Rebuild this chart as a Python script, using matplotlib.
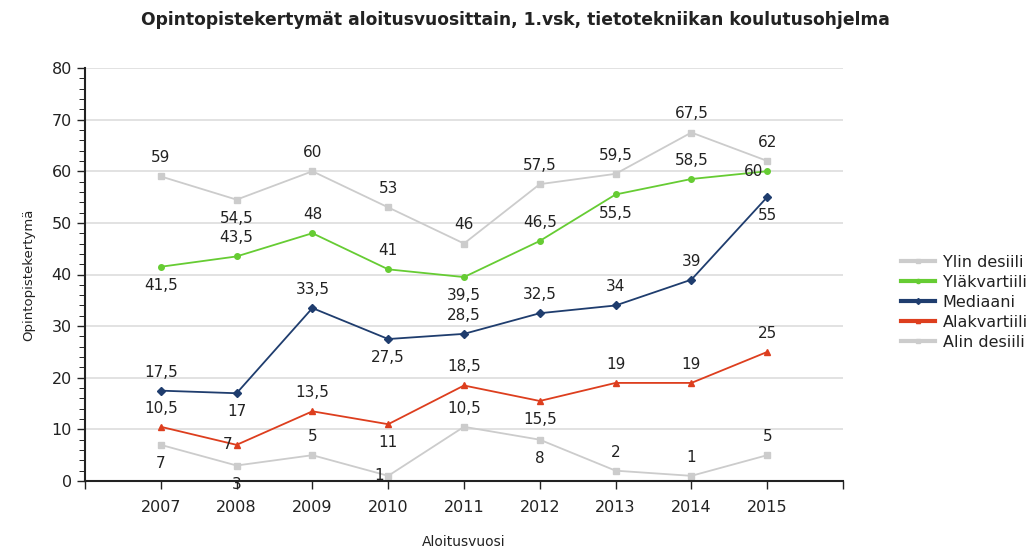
import matplotlib.pyplot as plt
from matplotlib.ticker import MultipleLocator

years = ['2007', '2008', '2009', '2010', '2011', '2012', '2013', '2014', '2015']
ylin_desiili = [59, 54.5, 60, 53, 46, 57.5, 59.5, 67.5, 62]
ylakvartiili = [41.5, 43.5, 48, 41, 39.5, 46.5, 55.5, 58.5, 60]
mediaani = [17.5, 17, 33.5, 27.5, 28.5, 32.5, 34, 39, 55]
alakvartiili = [10.5, 7, 13.5, 11, 18.5, 15.5, 19, 19, 25]
alin_desiili = [7, 3, 5, 1, 10.5, 8, 2, 1, 5]

# label placement per point: u = above, d = below, l = left
series = [
    ('Ylin desiili', ylin_desiili, '#cccccc', 's', 'uduuuuuuu'),
    ('Yläkvartiili', ylakvartiili, '#66cc33', 'o', 'duuududul'),
    ('Mediaani', mediaani, '#1f3d6e', 'D', 'ududuuuud'),
    ('Alakvartiili', alakvartiili, '#dd3e1e', '^', 'ulududuuu'),
    ('Alin desiili', alin_desiili, '#cccccc', 's', 'ddulud' + 'uuu'),
]
offsets = {'u': (0, 8, 'center', 'bottom'),
           'd': (0, -8, 'center', 'top'),
           'l': (-3, 0, 'right', 'center')}

fig = plt.figure(figsize=(10.31, 5.52), dpi=100)
ax = fig.add_axes([85 / 1031, 1 - 481 / 552, (843 - 85) / 1031, (481 - 68) / 552])

x = list(range(len(years)))
for name, vals, color, marker, pos in series:
    ms = 5 if marker == 's' else 4
    ax.plot(x, vals, color=color, marker=marker, markersize=ms, linewidth=1.3, label=name)
    for xi, v, p in zip(x, vals, pos):
        dx, dy, ha, va = offsets[p]
        ax.annotate(f'{v:g}'.replace('.', ','), (xi, v), xytext=(dx, dy),
                    textcoords='offset points', ha=ha, va=va, fontsize=11, color='#222222')

ax.set_xlim(-1, len(years))
ax.set_ylim(0, 80)
ax.set_xticks(x)
ax.set_xticks([-1, len(years)], minor=True)
ax.set_xticklabels(years, fontsize=11.5)
ax.yaxis.set_major_locator(MultipleLocator(10))
ax.yaxis.set_minor_locator(MultipleLocator(2))
ax.tick_params(axis='y', labelsize=11.5, length=6, width=1, colors='#222222')
ax.tick_params(axis='y', which='minor', length=4)
ax.tick_params(axis='x', which='both', length=6, width=1, pad=8, colors='#222222')
ax.grid(axis='y', color='#dddddd', linewidth=1.2)
ax.set_axisbelow(True)
for side in ['top', 'right']:
    ax.spines[side].set_visible(False)
ax.spines['left'].set_linewidth(1.5)
ax.spines['bottom'].set_linewidth(1.5)
ax.spines['left'].set_color('#222222')
ax.spines['bottom'].set_color('#222222')

ax.set_xlabel('Aloitusvuosi', fontsize=10, labelpad=14, color='#222222')
ax.set_ylabel('Opintopistekertymä', fontsize=9.5, labelpad=12, color='#222222')
fig.suptitle('Opintopistekertymät aloitusvuosittain, 1.vsk, tietotekniikan koulutusohjelma',
             fontsize=12.3, fontweight='bold', y=0.98, color='#222222')

leg = ax.legend(loc='center left', bbox_to_anchor=(1.0765, 0.433), frameon=False,
                fontsize=11.5, handlelength=2.1, labelspacing=0.31, borderpad=0,
                handletextpad=0.5, borderaxespad=0)
for line in leg.get_lines():
    line.set_linewidth(3)
    line.set_markersize(3)
for t in leg.get_texts():
    t.set_color('#222222')

plt.savefig('out.png', dpi=100)
